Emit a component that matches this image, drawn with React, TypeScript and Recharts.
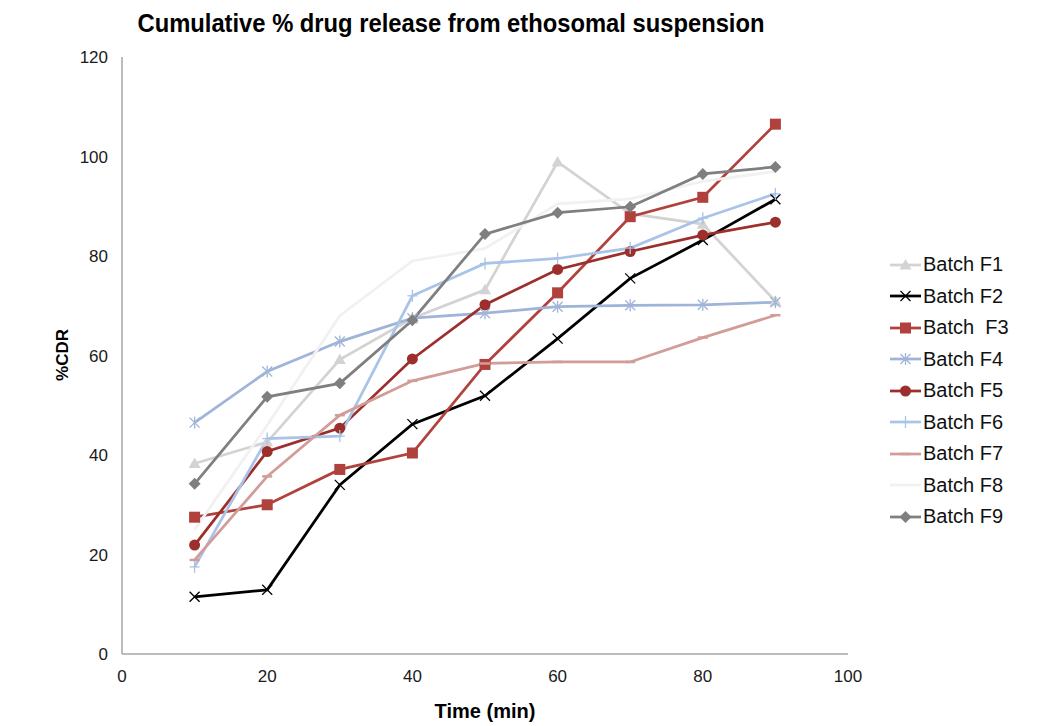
import React from 'react';
import { LineChart, Line, XAxis, YAxis, Legend, Customized, Label } from 'recharts';

const times = [10, 20, 30, 40, 50, 60, 70, 80, 90];
const batchF1 = [38.3, 42.6, 59.2, 67.5, 73.2, 98.9, 88.5, 86.4, 70.9];
const batchF2 = [11.5, 12.9, 34.0, 46.2, 51.9, 63.4, 75.5, 83.2, 91.4];
const batchF3 = [27.5, 30.0, 37.1, 40.4, 58.2, 72.6, 87.9, 91.8, 106.5];
const batchF4 = [46.5, 56.8, 62.8, 67.5, 68.5, 69.8, 70.1, 70.2, 70.7];
const batchF5 = [21.9, 40.7, 45.4, 59.3, 70.2, 77.3, 80.9, 84.2, 86.8];
const batchF6 = [17.5, 43.3, 43.8, 72.0, 78.5, 79.5, 81.6, 87.6, 92.5];
const batchF7 = [18.9, 35.7, 48.0, 54.9, 58.4, 58.7, 58.7, 63.6, 68.1];
const batchF8 = [25.0, 46.0, 68.0, 79.0, 81.5, 90.5, 91.5, 95.0, 97.0];
const batchF9 = [34.2, 51.7, 54.4, 67.1, 84.4, 88.7, 89.9, 96.5, 97.9];

const xTicks = [0, 20, 40, 60, 80, 100];
const yTicks = [0, 20, 40, 60, 80, 100, 120];

const seriesNames = ['Batch F1', 'Batch F2', 'Batch  F3', 'Batch F4', 'Batch F5', 'Batch F6', 'Batch F7', 'Batch F8', 'Batch F9'];
const seriesValues = [batchF1, batchF2, batchF3, batchF4, batchF5, batchF6, batchF7, batchF8, batchF9];
const seriesColors = ['#d3d3d3', '#000000', '#b1413d', '#9fb4d8', '#9c2f2b', '#a9c4e8', '#d29c98', '#f1f1f1', '#7f7f7f'];
const seriesShapes = ['triangle', 'cross', 'square', 'star', 'circle', 'plus', 'dash', 'none', 'diamond'];

const data = times.map((t, i) => {
  const row: Record<string, number> = { time: t };
  seriesValues.forEach((vals, s) => {
    row['s' + s] = vals[i];
  });
  return row;
});

const FONT = '"Liberation Sans", Arial, sans-serif';

function Marker({ shape, cx, cy, color }: { shape: string; cx: number; cy: number; color: string }) {
  if (cx == null || cy == null || isNaN(cx) || isNaN(cy)) return null;
  switch (shape) {
    case 'triangle':
      return <polygon points={`${cx},${cy - 6} ${cx - 6},${cy + 4.5} ${cx + 6},${cy + 4.5}`} fill={color} />;
    case 'cross':
      return (
        <g stroke={color} strokeWidth={1.3}>
          <line x1={cx - 5} y1={cy - 5} x2={cx + 5} y2={cy + 5} />
          <line x1={cx - 5} y1={cy + 5} x2={cx + 5} y2={cy - 5} />
        </g>
      );
    case 'square':
      return <rect x={cx - 5.5} y={cy - 5.5} width={11} height={11} fill={color} />;
    case 'star':
      return (
        <g stroke={color} strokeWidth={1.3}>
          <line x1={cx - 5} y1={cy - 5} x2={cx + 5} y2={cy + 5} />
          <line x1={cx - 5} y1={cy + 5} x2={cx + 5} y2={cy - 5} />
          <line x1={cx} y1={cy - 6} x2={cx} y2={cy + 6} />
        </g>
      );
    case 'circle':
      return <circle cx={cx} cy={cy} r={5.5} fill={color} />;
    case 'plus':
      return (
        <g stroke={color} strokeWidth={1.3}>
          <line x1={cx - 5} y1={cy} x2={cx + 5} y2={cy} />
          <line x1={cx} y1={cy - 6} x2={cx} y2={cy + 6} />
        </g>
      );
    case 'dash':
      return <line x1={cx - 5} y1={cy} x2={cx + 5} y2={cy} stroke={color} strokeWidth={2.5} />;
    case 'diamond':
      return <polygon points={`${cx},${cy - 6} ${cx + 6},${cy} ${cx},${cy + 6} ${cx - 6},${cy}`} fill={color} />;
    default:
      return null;
  }
}

function LegendContent() {
  return (
    <div style={{ fontFamily: FONT, fontSize: 20, color: '#111', width: 160 }}>
      {seriesNames.map((name, i) => (
        <div key={name} style={{ height: 31.5, display: 'flex', alignItems: 'center' }}>
          <svg width={34} height={20} style={{ display: 'block' }}>
            <line x1={2} y1={10} x2={33} y2={10} stroke={seriesColors[i]} strokeWidth={2.75} />
            <Marker shape={seriesShapes[i]} cx={17.5} cy={10} color={seriesColors[i]} />
          </svg>
          <span style={{ whiteSpace: 'pre', marginLeft: 1 }}>{name}</span>
        </div>
      ))}
    </div>
  );
}

function Title() {
  return (
    <text
      x={443}
      y={24}
      textAnchor="middle"
      fontFamily={FONT}
      fontWeight="bold"
      fontSize={26}
      fill="#000"
      textLength={627}
      lengthAdjust="spacingAndGlyphs"
    >
      Cumulative % drug release from ethosomal suspension
    </text>
  );
}

export default function App() {
  return (
    <div style={{ width: 1038, height: 718 }}>
      <LineChart width={1038} height={718} data={data} margin={{ top: 49, right: 198, bottom: 0, left: 0 }}>
        <XAxis
          dataKey="time"
          type="number"
          domain={[0, 100]}
          ticks={xTicks}
          tickLine={false}
          tickMargin={10}
          height={72}
          axisLine={{ stroke: '#a6a6a6', strokeWidth: 1.5 }}
          tick={{ fontSize: 17, fill: '#1a1a1a', fontFamily: FONT }}
        >
          <Label
            content={() => (
              <text x={477} y={710} textAnchor="middle" fontFamily={FONT} fontWeight="bold" fontSize={20} fill="#000">
                Time (min)
              </text>
            )}
          />
        </XAxis>
        <YAxis
          type="number"
          domain={[0, 120]}
          ticks={yTicks}
          width={114}
          tickLine={false}
          tickMargin={8}
          axisLine={{ stroke: '#a6a6a6', strokeWidth: 1.5 }}
          tick={{ fontSize: 17, fill: '#1a1a1a', fontFamily: FONT }}
        >
          <Label
            content={() => (
              <text
                x={54}
                y={347}
                textAnchor="middle"
                dominantBaseline="central"
                transform="rotate(-90 54 347)"
                fontFamily={FONT}
                fontWeight="bold"
                fontSize={17}
                fill="#000"
              >
                %CDR
              </text>
            )}
          />
        </YAxis>
        <Legend
          content={() => <LegendContent />}
          wrapperStyle={{ position: 'absolute', left: 880, top: 241, width: 0, height: 0, overflow: 'visible' }}
        />
        {seriesNames.map((name, s) => (
          <Line
            key={name}
            name={name}
            dataKey={'s' + s}
            type="linear"
            stroke={seriesColors[s]}
            strokeWidth={2.75}
            isAnimationActive={false}
            activeDot={false}
            dot={(p: any) => (
              <Marker key={`${name}-${p.index}`} shape={seriesShapes[s]} cx={p.cx} cy={p.cy} color={seriesColors[s]} />
            )}
          />
        ))}
        <Customized component={Title} />
      </LineChart>
    </div>
  );
}
